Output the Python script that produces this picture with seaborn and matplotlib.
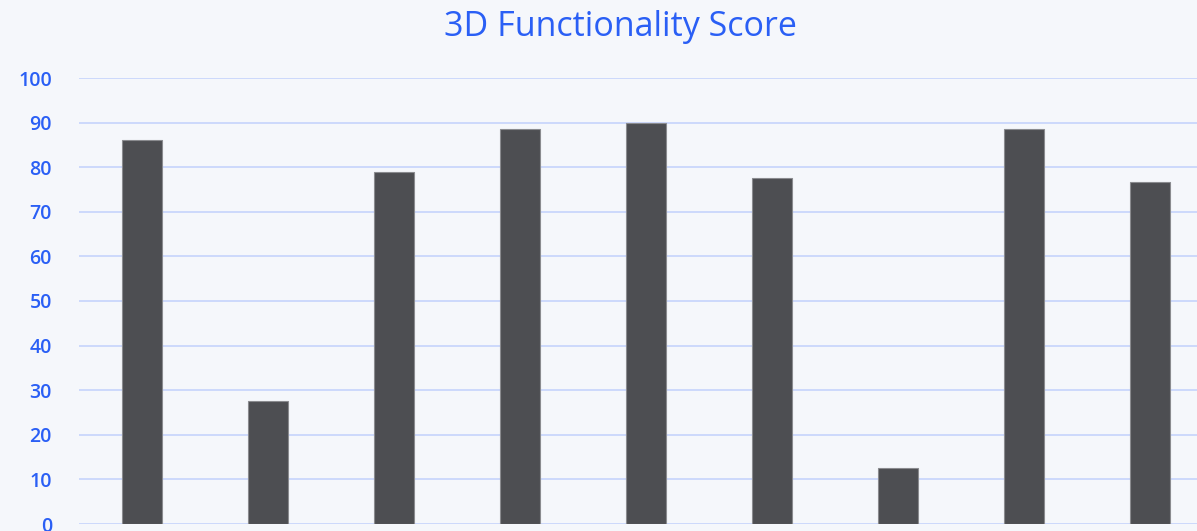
import matplotlib
matplotlib.use("Agg")
import matplotlib.pyplot as plt
import seaborn as sns
import pandas as pd

# 数据
categories = ["Item 1", "Item 2", "Item 3", "Item 4", "Item 5",
              "Item 6", "Item 7", "Item 8", "Item 9"]
scores = [86, 27.5, 79, 88.5, 90, 77.5, 12.5, 88.5, 76.7]
y_ticks = [0, 10, 20, 30, 40, 50, 60, 70, 80, 90, 100]

df = pd.DataFrame({"category": categories, "score": scores})

bg = "#f5f7fb"
blue = "#2a5ff5"

sns.set_theme(style="white")
plt.rcParams['font.family'] = ['Open Sans', 'DejaVu Sans']

fig = plt.figure(figsize=(11.97, 5.31), dpi=100, facecolor=bg)
# 轴区域超出右侧与底部（原图被裁切）
ax = fig.add_axes([79 / 1197, 7 / 531, 1134 / 1197, 446 / 531])
ax.set_facecolor(bg)

sns.barplot(data=df, x="category", y="score", color="#4d4e52", width=0.31,
            edgecolor="#8a8b8f", linewidth=0.8, saturation=1, ax=ax, zorder=3)

ax.set_ylim(0, 100)
ax.set_yticks(y_ticks)
ax.set_xlim(-0.5, len(categories) - 0.5)
ax.yaxis.grid(True, color="#c6d4fb", linewidth=1.2, zorder=0)
ax.set_axisbelow(True)
for s in ax.spines.values():
    s.set_visible(False)
ax.tick_params(axis="y", colors=blue, labelsize=14, length=0, pad=19.5)
ax.set_xticks([])
ax.set_xlabel("")
ax.set_ylabel("")
for lbl in ax.get_yticklabels():
    lbl.set_color(blue)
    lbl.set_fontweight("semibold")
    lbl.set_ha("right")

fig.text(620 / 1197, 1 - 27 / 531, "3D Functionality Score", color=blue,
         fontsize=24.5, ha="center", va="center")

fig.savefig("out.png", dpi=100, facecolor=bg)
